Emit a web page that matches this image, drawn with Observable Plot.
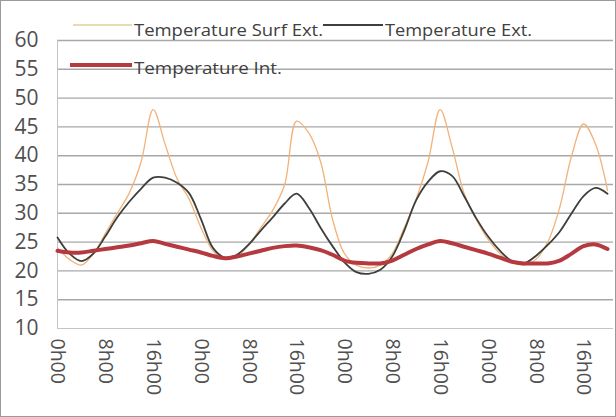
<!DOCTYPE html>
<html>
<head>
<meta charset="utf-8">
<script src="https://cdn.jsdelivr.net/npm/d3@7"></script>
<script src="https://cdn.jsdelivr.net/npm/@observablehq/plot@0.6"></script>
<style>
  html, body { margin: 0; padding: 0; background: #fff; }
  #chart { position: relative; width: 616px; height: 417px; }
  #chart svg { display: block; }
</style>
</head>
<body>
<div id="chart"></div>
<script>
const hours = [0,2,4,6,8,10,12,14,16,18,20,22,24,26,28,30,32,34,36,38,40,42,44,46,48,50,52,54,56,58,60,62,64,66,68,70,72,74,76,78,80,82,84,86,88,90,92];

const surfExt = [24,22,21,23,26.5,30,33.5,39,48,42,36,32.5,27.5,23.5,22,22.5,24.5,27.5,30.5,35,46,44,39,29,23,21,20.5,21,23,27.5,32.5,39,48,41.5,33.5,29,25.5,23,21.5,21,22,25,31,40,45.5,42,34];

const ext = [25.8,23,21.7,23,26,29.3,32,34.3,36.2,36.2,35.3,33.5,29,24,22.3,22.8,24.6,27,29.3,31.7,33.4,31,27.5,24.3,21.5,19.8,19.5,20.2,22.5,27,32.3,35.5,37.3,36.5,33,29.2,26,23.5,21.7,21.3,22.6,24.5,26.8,30,33,34.4,33.4];

const tempInt = [23.5,23.2,23.2,23.5,23.8,24.1,24.4,24.8,25.2,24.7,24.2,23.7,23.2,22.6,22.2,22.5,23,23.5,24,24.3,24.4,24.1,23.6,22.8,21.8,21.4,21.3,21.3,21.8,22.8,23.8,24.6,25.2,24.8,24.2,23.6,23,22.3,21.6,21.3,21.3,21.3,21.8,23,24.3,24.6,23.8];

const seriesNames = ["Temperature Surf Ext.", "Temperature Ext.", "Temperature Int."];
const seriesColors = ["#f2b27a", "#3c3f3a", "#b53a40"];
const seriesWidths = [1.3, 1.8, 4];

const tickHours = [0,8,16,24,32,40,48,56,64,72,80,88];
const tickLabels = ["0h00","8h00","16h00","0h00","8h00","16h00","0h00","8h00","16h00","0h00","8h00","16h00"];
const yTicks = [10,15,20,25,30,35,40,45,50,55,60];

const labelOf = new Map(tickHours.map((h, i) => [h, tickLabels[i]]));
const rows = (vals) => hours.map((h, i) => ({h, v: vals[i]}));

const chart = Plot.plot({
  width: 616,
  height: 417,
  marginLeft: 57,
  marginRight: 3,
  marginTop: 40,
  marginBottom: 89,
  style: {fontFamily: "'Open Sans', sans-serif", background: "#fff", color: "#505050"},
  x: {domain: [0, 93]},
  y: {domain: [10, 60]},
  marks: [
    Plot.ruleY(yTicks.filter(d => d > 10), {stroke: "#a8a8a8", strokeWidth: 1.4}),
    Plot.ruleY([10], {stroke: "#c4c4c4", strokeWidth: 1}),
    Plot.ruleX([0], {stroke: "#c4c4c4", strokeWidth: 1}),
    Plot.axisY({ticks: yTicks, tickSize: 0, tickPadding: 19, fontSize: 21, label: null}),
    Plot.axisX({ticks: tickHours, tickFormat: d => labelOf.get(d), tickRotate: 90, tickSize: 0, tickPadding: 10, fontSize: 19.5, label: null}),
    Plot.line(rows(surfExt), {x: "h", y: "v", stroke: seriesColors[0], strokeWidth: seriesWidths[0], curve: "catmull-rom"}),
    Plot.line(rows(ext), {x: "h", y: "v", stroke: seriesColors[1], strokeWidth: seriesWidths[1], curve: "catmull-rom"}),
    Plot.line(rows(tempInt), {x: "h", y: "v", stroke: seriesColors[2], strokeWidth: seriesWidths[2], curve: "catmull-rom"})
  ]
});

document.getElementById("chart").appendChild(chart);

const svg = d3.select(chart);
svg.selectAll("text").attr("fill", "#505050");

// legend (inside the chart, as in the original)
const legend = svg.append("g")
  .attr("font-family", "'Open Sans', sans-serif")
  .attr("font-size", 17)
  .attr("fill", "#404040")
  .attr("text-anchor", "start");
const legendItems = [
  {i: 0, x1: 73, x2: 132, y: 25, tx: 134, ty: 31, w: 189},
  {i: 1, x1: 323, x2: 383, y: 25, tx: 385, ty: 31, w: 147},
  {i: 2, x1: 70, x2: 132, y: 65, tx: 134, ty: 69, w: 148}
];
legendItems.forEach(it => {
  legend.append("line").attr("x1", it.x1).attr("x2", it.x2).attr("y1", it.y).attr("y2", it.y)
    .attr("stroke", it.i === 0 ? "#e6dcae" : seriesColors[it.i]).attr("stroke-width", it.i === 2 ? 4 : 2);
  legend.append("text").attr("x", it.tx).attr("y", it.ty)
    .attr("text-anchor", "start")
    .attr("dominant-baseline", "middle")
    .attr("textLength", it.w).attr("lengthAdjust", "spacingAndGlyphs")
    .text(seriesNames[it.i]);
});

// outer frame
svg.append("rect").attr("x", 0.5).attr("y", 0.5).attr("width", 615).attr("height", 416)
  .attr("fill", "none").attr("stroke", "#9a9a9a");
</script>
</body>
</html>
